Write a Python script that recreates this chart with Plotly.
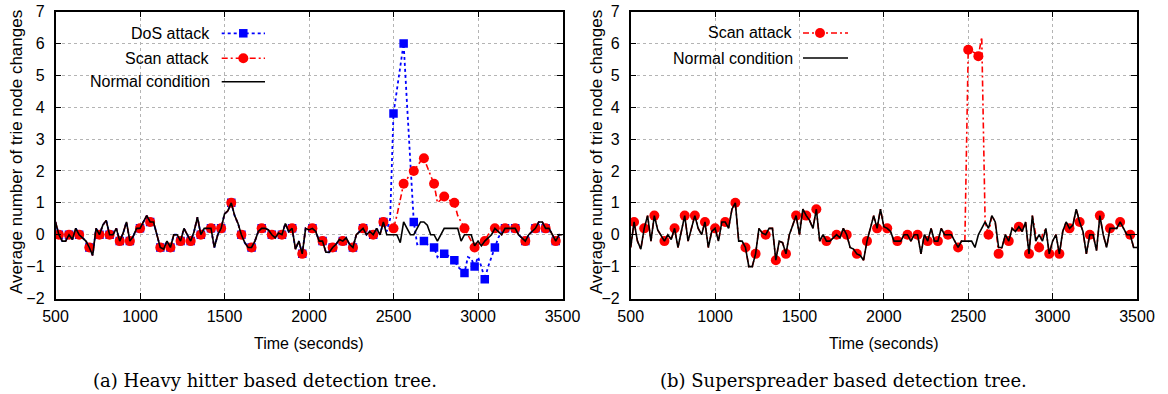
import plotly.graph_objects as go

W, H = 1168, 394

# Sample times in seconds (one sample every 20 s); every third sample carries a marker
TIME = list(range(500, 3501, 20))
MARK_START, MARK_STEP = 1, 3

# ---------- (a) heavy hitter based detection tree ----------
HH_NORMAL = [
    0.4, 0.0, -0.2, -0.2, 0.0, -0.15, 0.2, 0.0, -0.1, -0.2,
    -0.4, -0.65, 0.2, 0.0, 0.3, 0.45, 0.0, 0.0, 0.2, -0.2,
    0.05, 0.4, -0.2, -0.05, 0.2, 0.2, 0.4, 0.6, 0.4, 0.4,
    0.0, -0.4, -0.45, -0.2, -0.4, 0.0, 0.0, -0.2, 0.2, 0.0,
    -0.2, 0.1, 0.55, 0.0, 0.2, 0.2, 0.2, -0.4, 0.0, 0.2,
    0.65, 0.75, 1.0, 0.6, 0.35, 0.0, -0.25, -0.4, -0.4, -0.2,
    0.1, 0.2, 0.2, 0.15, 0.0, -0.1, 0.05, 0.0, 0.35, 0.1,
    0.2, -0.45, -0.2, -0.6, 0.2, 0.15, 0.2, 0.1, -0.2, -0.2,
    -0.55, -0.55, -0.4, -0.3, -0.15, -0.2, -0.1, -0.3, -0.4, 0.0,
    0.1, 0.2, 0.0, 0.1, 0.0, 0.2, 0.0, 0.4, 0.0, 0.0,
    0.0, 0.0, -0.25, 0.4, 0.2, 0.0, 0.0, 0.2, 0.4, 0.4,
    0.3, 0.0, 0.0, -0.2, 0.0, 0.2, 0.2, 0.2, 0.2, 0.2,
    -0.2, 0.0, 0.0, 0.0, -0.35, -0.2, -0.35, -0.2, -0.1, 0.0,
    0.2, 0.1, 0.0, 0.2, 0.2, 0.2, 0.2, 0.0, -0.1, -0.2,
    0.0, 0.1, 0.2, 0.4, 0.4, 0.2, 0.2, 0.0, -0.2, 0.0, 0.0,
]
HH_DOS_FROM = 98
HH_DOS_ATTACK = [
    0.1, 0.5, 3.8, 4.5, 5.3, 6.0, 4.1, 2.2, 0.4, -0.3,
    -0.25, -0.2, -0.3, -0.35, -0.4, -0.7, -0.6, -0.6, -0.65, -0.7,
    -0.8, -1.0, -1.1, -1.2, -0.7, -0.75, -1.0, -0.7, -1.0, -1.4,
    -1.0, -0.7, -0.4, -0.1, 0.1,
]
HH_SCAN_FROM = 98
HH_SCAN_ATTACK = [
    0.3, 0.25, 0.2, 0.6, 1.1, 1.6, 1.75, 1.9, 2.0, 2.15,
    2.3, 2.4, 2.1, 1.85, 1.6, 1.0, 1.1, 1.2, 1.1, 1.05,
    1.0, 0.6, 0.4, 0.2, 0.0, -0.2, -0.4, -0.3, -0.25, -0.2,
    0.0, 0.1,
]

# ---------- (b) superspreader based detection tree ----------
SS_NORMAL = [
    -0.4, 0.4, -0.2, -0.45, 0.2, 0.6, -0.2, 0.6, 0.15, -0.05,
    -0.2, 0.0, -0.15, 0.2, -0.4, 0.1, 0.6, -0.2, 0.2, 0.6,
    0.2, 0.0, 0.4, -0.4, 0.1, 0.2, -0.2, 0.4, 0.4, 0.2,
    0.8, 1.0, -0.2, -0.2, -0.4, -1.0, -1.0, -0.6, 0.2, 0.05,
    0.0, 0.2, 0.2, -0.8, -0.2, -0.25, -0.6, 0.0, 0.3, 0.6,
    0.0, 0.8, 0.6, 0.45, 0.2, 0.8, -0.2, 0.0, -0.2, -0.2,
    -0.1, 0.0, -0.1, 0.2, 0.0, -0.4, -0.45, -0.6, -0.65, -0.8,
    -0.2, 0.2, 0.6, 0.2, 0.8, 0.25, 0.2, 0.1, -0.2, -0.2,
    -0.2, 0.0, 0.0, -0.2, 0.0, 0.0, -0.6, 0.0, -0.2, 0.2,
    -0.2, -0.2, 0.2, 0.0, 0.0, 0.0, -0.2, -0.4, -0.2, -0.2,
    -0.2, -0.2, -0.4, 0.0, 0.2, 0.4, 0.2, 0.6, 0.4, -0.4,
    -0.4, 0.0, -0.2, 0.2, 0.1, 0.25, 0.1, 0.4, -0.6, 0.6,
    -0.2, 0.0, -0.2, 0.2, -0.6, -0.2, 0.0, -0.6, 0.1, 0.4,
    0.2, 0.3, 0.8, 0.4, 0.1, -0.6, 0.0, 0.0, -0.5, 0.6,
    0.0, -0.4, 0.2, 0.2, 0.2, 0.4, 0.2, 0.0, 0.0, -0.4, -0.4,
]
SS_SCAN_FROM = 99
SS_SCAN_ATTACK = [
    -0.2, 5.8, 5.75, 5.7, 5.6, 6.2, 0.4, 0.0, 0.6, 0.4,
    -0.6, -0.4, 0.0, -0.2, 0.2, 0.1, 0.25, 0.1, 0.4, -0.6,
    0.6, 0.0, -0.4, 0.0,
]

X_TICKS = [500, 1000, 1500, 2000, 2500, 3000, 3500]
Y_TICKS = [-2, -1, 0, 1, 2, 3, 4, 5, 6, 7]

BLUE, RED, BLACK = "#0000ff", "#ff0000", "#000000"
DOS_DASH = "3px,3px"
SCAN_DASH = "6px,3px,2px,3px"
SANS = "Liberation Sans, Arial, Helvetica, sans-serif"
SERIF = "DejaVu Serif, Liberation Serif, serif"


def splice(base, start, segment):
    out = list(base)
    out[start:start + len(segment)] = segment
    return out


def px(x):
    return x / W


def py(y):
    return 1 - y / H


HH_DOS = splice(HH_NORMAL, HH_DOS_FROM, HH_DOS_ATTACK)
HH_SCAN = splice(HH_NORMAL, HH_SCAN_FROM, HH_SCAN_ATTACK)
SS_SCAN = splice(SS_NORMAL, SS_SCAN_FROM, SS_SCAN_ATTACK)

fig = go.Figure()


def add_series(values, xa, ya, color, dash, width, symbol=None, size=None):
    fig.add_trace(go.Scatter(
        x=TIME, y=values, mode="lines", xaxis=xa, yaxis=ya,
        line=dict(color=color, width=width, dash=dash),
        showlegend=False, hoverinfo="skip"))
    if symbol:
        fig.add_trace(go.Scatter(
            x=TIME[MARK_START::MARK_STEP], y=values[MARK_START::MARK_STEP],
            mode="markers", xaxis=xa, yaxis=ya,
            marker=dict(symbol=symbol, size=size, color=color, line=dict(width=0)),
            showlegend=False, hoverinfo="skip"))


# panel (a)
add_series(HH_DOS, "x", "y", BLUE, DOS_DASH, 1.8, "square", 8.5)
add_series(HH_SCAN, "x", "y", RED, SCAN_DASH, 1.6, "circle", 10)
add_series(HH_NORMAL, "x", "y", BLACK, "solid", 1.6)
# panel (b)
add_series(SS_SCAN, "x2", "y2", RED, SCAN_DASH, 1.6, "circle", 10)
add_series(SS_NORMAL, "x2", "y2", BLACK, "solid", 1.6)

Y_DOMAIN = [py(298.5), py(11.5)]
axis_common = dict(
    showline=True, linecolor=BLACK, linewidth=1.5, mirror="allticks",
    ticks="inside", ticklen=6, tickwidth=1, tickcolor=BLACK,
    showgrid=True, gridcolor="#b4b4b4", griddash="dot", gridwidth=1,
    zeroline=False, tickfont=dict(family=SANS, size=16, color=BLACK),
    automargin=False,
)
xcommon = dict(axis_common, range=[500, 3500], tickvals=X_TICKS, ticklabelstandoff=3)
ycommon = dict(axis_common, range=[-2, 7], tickvals=Y_TICKS, domain=Y_DOMAIN,
               ticklabelstandoff=6)

fig.update_layout(
    width=W, height=H, margin=dict(l=0, r=0, t=0, b=0),
    paper_bgcolor="white", plot_bgcolor="white", showlegend=False,
    xaxis=dict(xcommon, domain=[px(55.5), px(562.5)], anchor="y"),
    yaxis=dict(ycommon, anchor="x"),
    xaxis2=dict(xcommon, domain=[px(630.7), px(1137)], anchor="y2"),
    yaxis2=dict(ycommon, anchor="x2"),
)

annotations = []
shapes = []

Y_TITLE = "Average number of trie node changes"
for xc, xt in [(309, 16), (884, 596)]:
    annotations.append(dict(text="Time (seconds)", x=px(xc), y=py(343), xref="paper", yref="paper",
                            xanchor="center", yanchor="middle", showarrow=False,
                            font=dict(family=SANS, size=16, color=BLACK)))
    annotations.append(dict(text=Y_TITLE, x=px(xt), y=py(152), xref="paper", yref="paper",
                            xanchor="center", yanchor="middle", textangle=-90, showarrow=False,
                            font=dict(family=SANS, size=17, color=BLACK)))

annotations.append(dict(text="(a) Heavy hitter based detection tree.", x=px(265), y=py(380),
                        xref="paper", yref="paper", xanchor="center", yanchor="middle",
                        showarrow=False, font=dict(family=SERIF, size=18, color=BLACK)))
annotations.append(dict(text="(b) Superspreader based detection tree.", x=px(843), y=py(380),
                        xref="paper", yref="paper", xanchor="center", yanchor="middle",
                        showarrow=False, font=dict(family=SERIF, size=18, color=BLACK)))


def legend_row(label, text_right, y, x0, x1, xm, color, dash, width, symbol=None, size=0):
    annotations.append(dict(text=label, x=px(text_right), y=py(y), xref="paper", yref="paper",
                            xanchor="right", yanchor="middle", showarrow=False,
                            font=dict(family=SANS, size=16, color=BLACK)))
    shapes.append(dict(type="line", xref="paper", yref="paper", x0=px(x0), x1=px(x1),
                       y0=py(y), y1=py(y), line=dict(color=color, width=width, dash=dash)))
    if symbol:
        h = size / 2
        shapes.append(dict(type=symbol, xref="paper", yref="paper",
                           x0=px(xm - h), x1=px(xm + h), y0=py(y + h), y1=py(y - h),
                           fillcolor=color, line=dict(width=0)))


legend_row("DoS attack", 212.3, 33.3, 221.7, 265, 243.3, BLUE, DOS_DASH, 1.8, "rect", 8.5)
legend_row("Scan attack", 212.3, 58.3, 221.7, 265, 243.3, RED, SCAN_DASH, 1.6, "circle", 10)
legend_row("Normal condition", 212.3, 81.7, 221.7, 265, 243.3, BLACK, "solid", 1.6)

legend_row("Scan attack", 795, 33, 803, 848, 820, RED, SCAN_DASH, 1.6, "circle", 10)
legend_row("Normal condition", 795, 58, 803, 848, 820, BLACK, "solid", 1.6)

fig.update_layout(annotations=annotations, shapes=shapes)

fig.write_html("out.html")
